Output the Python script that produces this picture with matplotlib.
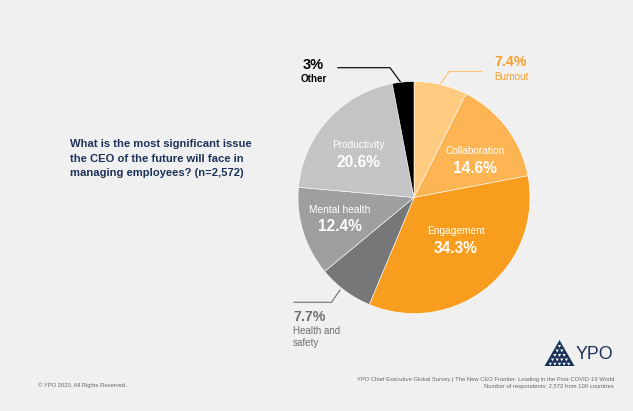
"""
Pie chart: most significant issue for the CEO of the future in managing employees
"""
import matplotlib
matplotlib.use('Agg')
import matplotlib.pyplot as plt
from matplotlib.patches import Polygon

plt.rcParams['font.family'] = ['Liberation Sans', 'DejaVu Sans']

# Survey shares (%), clockwise from 12 o'clock
categorias = ['Burnout', 'Collaboration', 'Engagement', 'Health and\nsafety',
              'Mental health', 'Productivity', 'Other']
valores = [7.4, 14.6, 34.3, 7.7, 12.4, 20.6, 3.0]
cores = ['#fecb80', '#fdb453', '#f89d1d', '#767778', '#9d9fa1', '#c3c4c6', '#000000']

pergunta = ('What is the most significant issue\n'
            'the CEO of the future will face in\n'
            'managing employees? (n=2,572)')
rodape_esq = '\u00a9 YPO 2020. All Rights Reserved.'
rodape_dir = ('YPO Chief Executive Global Survey | The New CEO Frontier: '
              'Leading in the Post-COVID-19 World\n'
              'Number of respondents: 2,572 from 100 countries')

W, H = 633, 411
FUNDO = '#f0f0f0'
AZUL = '#1c3359'


def camada_pixel(fig):
    """Eixo transparente do tamanho da figura, em pixels (y para baixo)"""
    a = fig.add_axes([0, 0, 1, 1])
    a.set_xlim(0, W)
    a.set_ylim(H, 0)
    a.set_facecolor('none')
    a.axis('off')
    return a


fig = plt.figure(figsize=(W / 100, H / 100), dpi=100, facecolor=FUNDO)

# Camada de fundo: linhas de chamada (ficam sob a pizza)
bg = camada_pixel(fig)

# Pizza
cx, cy, r = 414, 197.5, 116
ax = fig.add_axes([(cx - r) / W, (H - cy - r) / H, 2 * r / W, 2 * r / H])
ax.set_facecolor('none')
ax.pie(valores, colors=cores, startangle=90, counterclock=False, radius=1,
       wedgeprops=dict(edgecolor='white', linewidth=0.4))
ax.set_xlim(-1, 1)
ax.set_ylim(-1, 1)
ax.set_aspect('equal')
ax.axis('off')

# Camada de textos por cima da pizza
top = camada_pixel(fig)

pct = [f'{v:g}%' for v in valores]

# Rótulos internos (nome + percentual)
internos = {1: (475, 151, 168.5), 2: (456, 231, 248.5),
            4: (340, 209.5, 226.5), 5: (358.5, 145, 162)}
for i, (x, y1, y2) in internos.items():
    top.text(x, y1, categorias[i], color='white', fontsize=7.3,
             ha='center', va='center')
    top.text(x, y2, pct[i], color='white', fontsize=11.2, fontweight='bold',
             ha='center', va='center')

# Rótulos externos com linhas de chamada
bg.plot([482, 449, 439], [71.5, 71.5, 86], color='#fdc77a', lw=0.9)
top.text(494, 62, pct[0], color='#f7a02c', fontsize=10.2, fontweight='bold',
         ha='left', va='center')
top.text(494, 77, categorias[0], color='#f7a02c', fontsize=7.1,
         ha='left', va='center')

bg.plot([338, 390, 402], [67.7, 67.7, 84], color='#111111', lw=0.9)
top.text(313.5, 65, pct[6], color='black', fontsize=10.5, fontweight='bold',
         ha='center', va='center')
top.text(313.5, 78.5, categorias[6], color='black', fontsize=7.1,
         fontweight='bold', ha='center', va='center')

bg.plot([294, 331.5, 340], [302.3, 302.3, 290], color='#7a7a7a', lw=0.9)
top.text(293, 317, pct[3], color='#6f6f6f', fontsize=10.2, fontweight='bold',
         ha='left', va='center')
top.text(293, 337, categorias[3], color='#6f6f6f', fontsize=7.1,
         ha='left', va='center', linespacing=1.25)

# Pergunta
top.text(69.5, 158.5, pergunta, color=AZUL, fontsize=8.1, fontweight='bold',
         ha='left', va='center', linespacing=1.6)

# Rodapés
top.text(38, 385.5, rodape_esq, color='#6a6a6a', fontsize=4.2,
         ha='left', va='center')
top.text(614, 383, rodape_dir, color='#6a6a6a', fontsize=4.2,
         ha='right', va='center', linespacing=1.65, multialignment='right')

# Logo YPO: triângulo com pequenos triângulos brancos
tx, ty, base_y, meia = 559.5, 340, 366, 15
top.add_patch(Polygon([(tx, ty), (tx - meia, base_y), (tx + meia, base_y)],
                      closed=True, color=AZUL, lw=0))
for k, y in enumerate([346.5, 351, 355.5, 360, 364.3]):
    n = k + 1
    for j in range(n):
        x = tx + (j - (n - 1) / 2) * 4.6
        top.add_patch(Polygon([(x - 1.6, y - 1.5), (x + 1.6, y - 1.5), (x, y + 1.3)],
                              closed=True, color='white', lw=0))
top.text(576, 354.5, 'YPO', color=AZUL, fontsize=12.8, ha='left', va='center')

plt.savefig('out.png', dpi=100, facecolor=FUNDO)
plt.close(fig)
